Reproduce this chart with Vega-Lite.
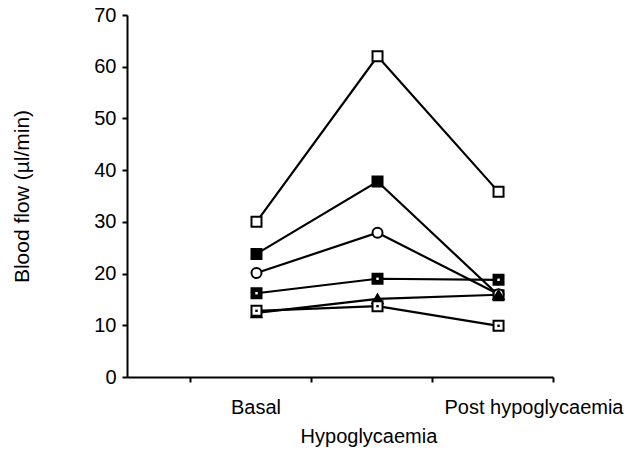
{
  "$schema": "https://vega.github.io/schema/vega-lite/v6.json",
  "width": 426,
  "height": 362,
  "autosize": {"type": "none"},
  "padding": {"left": 127, "top": 15, "right": 83, "bottom": 81},
  "background": "white",
  "config": {
    "font": "Liberation Sans",
    "view": {"stroke": null},
    "axis": {
      "domainColor": "black",
      "domainWidth": 2,
      "tickColor": "black",
      "tickWidth": 2,
      "tickSize": 5,
      "labelColor": "black",
      "labelFontSize": 20,
      "titleColor": "black",
      "titleFontSize": 21,
      "titleFontWeight": "normal",
      "grid": false
    }
  },
  "data": {
    "values": [
      {"series": "S1", "phase": "Basal", "flow": 30},
      {"series": "S1", "phase": "Hypoglycaemia", "flow": 62},
      {"series": "S1", "phase": "Post hypoglycaemia", "flow": 35.8},
      {"series": "S2", "phase": "Basal", "flow": 23.8},
      {"series": "S2", "phase": "Hypoglycaemia", "flow": 37.8},
      {"series": "S2", "phase": "Post hypoglycaemia", "flow": 15.8},
      {"series": "S3", "phase": "Basal", "flow": 20.1},
      {"series": "S3", "phase": "Hypoglycaemia", "flow": 27.9},
      {"series": "S3", "phase": "Post hypoglycaemia", "flow": 16},
      {"series": "S4", "phase": "Basal", "flow": 16.2},
      {"series": "S4", "phase": "Hypoglycaemia", "flow": 19},
      {"series": "S4", "phase": "Post hypoglycaemia", "flow": 18.8},
      {"series": "S5", "phase": "Basal", "flow": 12.4},
      {"series": "S5", "phase": "Hypoglycaemia", "flow": 15.1},
      {"series": "S5", "phase": "Post hypoglycaemia", "flow": 15.9},
      {"series": "S6", "phase": "Basal", "flow": 12.8},
      {"series": "S6", "phase": "Hypoglycaemia", "flow": 13.7},
      {"series": "S6", "phase": "Post hypoglycaemia", "flow": 9.9}
    ]
  },
  "encoding": {
    "x": {
      "field": "phase",
      "type": "nominal",
      "sort": ["Basal", "Hypoglycaemia", "Post hypoglycaemia"],
      "bandPosition": 0.55,
      "scale": {"type": "band", "paddingInner": 0, "paddingOuter": 0.26, "align": 1},
      "axis": {
        "title": null,
        "labelAngle": 0,
        "tickBand": "extent",
        "labelOverlap": false,
        "labelBound": false,
        "labelFlush": false,
        "labelPadding": {"condition": {"test": "datum.value === 'Hypoglycaemia'", "value": 44}, "value": 15},
        "labelOffset": {"condition": [{"test": "datum.value === 'Post hypoglycaemia'", "value": 41}, {"test": "datum.value === 'Hypoglycaemia'", "value": -3}], "value": 5}
      }
    },
    "y": {
      "field": "flow",
      "type": "quantitative",
      "scale": {"domain": [0, 70], "nice": false},
      "axis": {
        "title": "Blood flow (µl/min)",
        "values": [0, 10, 20, 30, 40, 50, 60, 70],
        "labelPadding": 6,
        "titlePadding": 61
      }
    }
  },
  "layer": [
    {
      "mark": {"type": "line", "color": "black", "strokeWidth": 2.2},
      "encoding": {"detail": {"field": "series"}}
    },
    {
      "mark": {"type": "point", "size": 100, "stroke": "black", "strokeWidth": 2, "opacity": 1, "filled": false},
      "encoding": {
        "shape": {"field": "series", "type": "nominal", "legend": null,
          "scale": {"domain": ["S1", "S2", "S3", "S4", "S5", "S6"], "range": ["square", "square", "circle", "square", "triangle-up", "square"]}},
        "fill": {"field": "series", "type": "nominal", "legend": null,
          "scale": {"domain": ["S1", "S2", "S3", "S4", "S5", "S6"], "range": ["white", "black", "white", "black", "black", "white"]}}
      }
    },
    {
      "transform": [{"filter": "datum.series === 'S4' || datum.series === 'S6'"}],
      "mark": {"type": "square", "size": 6, "opacity": 1},
      "encoding": {
        "color": {"field": "series", "type": "nominal", "legend": null,
          "scale": {"domain": ["S4", "S6"], "range": ["white", "black"]}}
      }
    }
  ]
}
